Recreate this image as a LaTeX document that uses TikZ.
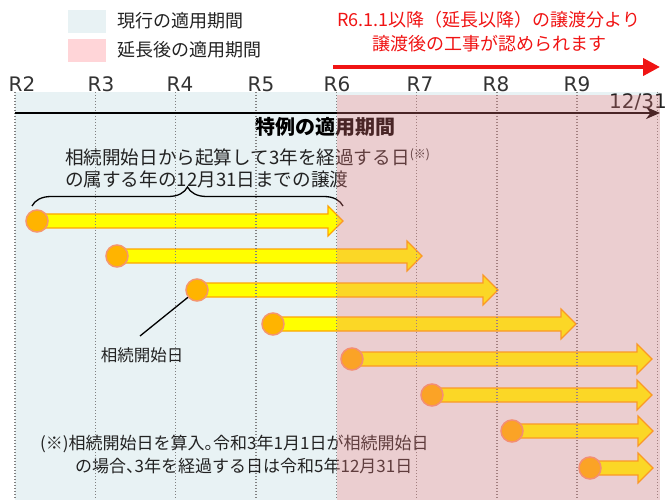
\documentclass[tikz,border=0pt]{standalone}
\usepackage{fontspec}
\setmainfont{Noto Sans CJK JP}
\newfontfamily\latinfont{DejaVu Sans}
\usetikzlibrary{arrows.meta,calc,decorations.pathreplacing}
\definecolor{bgblue}{RGB}{232,242,244}
\definecolor{legpink}{RGB}{255,213,216}
\definecolor{ovpink}{RGB}{242,125,127}
\definecolor{txt}{RGB}{34,34,34}
\definecolor{rtxt}{RGB}{51,51,51}
\definecolor{shaftfill}{RGB}{255,255,0}
\definecolor{shaftdraw}{RGB}{255,165,0}
\definecolor{dotfill}{RGB}{255,180,0}
\definecolor{dotdraw}{RGB}{245,150,110}
\definecolor{gridgray}{RGB}{128,128,128}
\definecolor{redtxt}{RGB}{240,20,20}
\newcommand{\halfmaru}{\makebox[0.5em][l]{。}}
\newcommand{\halften}{\makebox[0.5em][l]{、}}
\tikzset{
  jp/.style={font=\fontsize{18}{22}\selectfont, text=txt, inner sep=0pt},
  jpsmall/.style={font=\fontsize{17}{20}\selectfont, text=txt, inner sep=0pt},
  rlabel/.style={font=\latinfont\fontsize{20}{24}\selectfont, text=rtxt, inner sep=0pt},
  legbox/.style={minimum width=38pt, minimum height=23pt, inner sep=0pt, draw=none},
  startdot/.style={circle, fill=dotfill, draw=dotdraw, line width=1.5pt, minimum size=22pt, inner sep=0pt},
  shaft/.style={fill=shaftfill, draw=shaftdraw, line width=1.2pt, line join=miter},
  gridline/.style={draw=gridgray, line width=1.4pt, dash pattern=on 1.4pt off 1.6pt},
}
\begin{document}
\begin{tikzpicture}[x=1pt,y=-1pt]
\useasboundingbox (0,0) rectangle (670,500);
% backgrounds
\fill[bgblue] (15,92) rectangle (660,500);
% legend
\node[legbox, fill=bgblue, anchor=north west] (lb1) at (68,10) {};
\node[legbox, fill=legpink, anchor=north west] (lb2) at (68,39) {};
\node[jp, anchor=west] (lt1) at (117,21) {現行の適用期間};
\node[jp, anchor=west] (lt2) at (117,50) {延長後の適用期間};
% red note
\node[jp, text=redtxt, align=center, font=\fontsize{18}{24}\selectfont] (rnote) at (489,32) {R6.1.1以降（延長以降）の譲渡分より\\譲渡後の工事が認められます};
\coordinate (ra0) at (333,67);
\coordinate (ra1) at (660,67);
\draw[redtxt, line width=4pt, -{Triangle[length=17pt,width=17pt]}] (ra0) -- (ra1);
% R labels
\foreach \lab/\lx in {R2/22,R3/101,R4/180,R5/261,R6/337,R7/420,R8/496,R9/577}{
  \node[rlabel] (l\lab) at (\lx,84) {\lab};
}
% arrows
\foreach \n/\cx/\cy/\tx in {1/37/221/343,2/117/256/422,3/197/290/498,4/273/324/576,5/352/359/652,6/432/395/652,7/512/431/653,8/590/468/653}{
  \coordinate (t\n) at (\tx,\cy);
  \coordinate (s\n) at (\cx,\cy);
  \draw[shaft] ($(s\n)+(0,-7)$) -- ($(t\n)+(-15,-7)$) -- ($(t\n)+(-15,-15)$) -- (t\n)
     -- ($(t\n)+(-15,15)$) -- ($(t\n)+(-15,7)$) -- ($(s\n)+(0,7)$) -- cycle;
  \node[startdot] (c\n) at (s\n) {};
}
% texts
\node[jp, font=\bfseries\fontsize{20}{24}\selectfont, text=black] (title) at (325,127) {特例の適用期間};
\node[jp, anchor=west, font=\fontsize{18.6}{22}\selectfont] (m1) at (65,157) {相続開始日から起算して3年を経過する日\raisebox{6pt}{\fontsize{12}{13}\selectfont(※)}};
\node[jp, anchor=west, font=\fontsize{18.6}{22}\selectfont] (m2) at (65,179) {の属する年の12月31日までの譲渡};
\coordinate (bl) at (32,206);
\coordinate (br) at (343,206);
\draw[black, line width=1.3pt, decorate, decoration={brace, amplitude=19pt}] (bl) -- (br);
\coordinate (lead) at (140,336);
\draw[black, line width=1.3pt] (lead) -- (c3);
\node[jp, font=\fontsize{16.5}{20}\selectfont] (leadlab) at (142,355) {相続開始日};
\node[jpsmall, anchor=west] (f1) at (40,444) {(※)相続開始日を算入\halfmaru 令和3年1月1日が相続開始日};
\node[jpsmall, anchor=west] (f2) at (75,466) {の場合\halften 3年を経過する日は令和5年12月31日};
% grid lines
\foreach \k in {0,...,8}{
  \draw[gridline] ({15+80.3*\k},92) -- ({15+80.3*\k},500);
}
% axis
\coordinate (ax0) at (15,113);
\coordinate (ax1) at (660,113);
\draw[black, line width=2pt, -{Stealth[length=14pt,width=12pt]}] (ax0) -- (ax1);
\node[rlabel, text=txt] (d1231) at (638,102) {12/31};
% pink overlay
\fill[ovpink, opacity=0.3] (337,95) rectangle (660,500);
\end{tikzpicture}
\end{document}
